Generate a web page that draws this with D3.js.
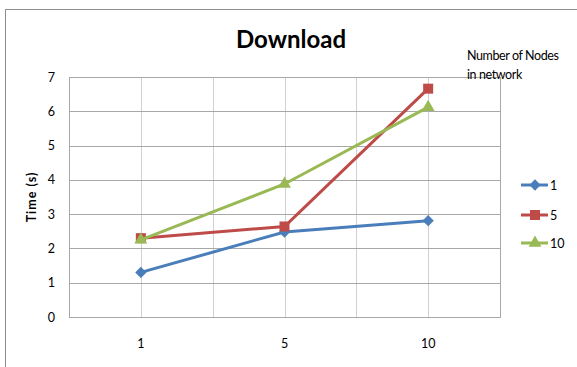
<!DOCTYPE html>
<html>
<head>
<meta charset="utf-8">
<script src="https://cdn.jsdelivr.net/npm/d3@7"></script>
<style>
body { margin: 0; background: #fff; }
svg { display: block; font-family: Lato, "Open Sans", sans-serif; }
</style>
</head>
<body>
<svg id="chart" width="577" height="367"></svg>
<script>
var categories = ["1", "5", "10"];
var yTicks = [0, 1, 2, 3, 4, 5, 6, 7];
var seriesNames = ["1", "5", "10"];
var values1 = [1.3, 2.48, 2.81];
var values5 = [2.3, 2.64, 6.66];
var values10 = [2.25, 3.88, 6.12];
var colors = ["#4a7ebb", "#be4b48", "#98b954"];

var svg = d3.select("#chart");

// outer frame
svg.append("path")
    .attr("d", "M5.5,367 L5.5,9.5 L577,9.5")
    .attr("fill", "none")
    .attr("stroke", "#8c8c8c")
    .attr("stroke-width", 1);

var plotL = 69, plotR = 500, plotT = 77, plotB = 317;

var x = d3.scaleBand().domain(categories).range([plotL, plotR]);
var y = d3.scaleLinear().domain([0, 7]).range([plotB, plotT]);

// marker shapes: diamond = rotated square
function marker(sel, s) {
    if (s == 0) {
        sel.attr("d", d3.symbol().type(d3.symbolSquare).size(64)());
    } else if (s == 1) {
        sel.attr("d", d3.symbol().type(d3.symbolSquare).size(100)());
    } else {
        sel.attr("d", d3.symbol().type(d3.symbolTriangle).size(72)());
    }
    return sel;
}

// vertical grid: band edges + centres
var vlines = [];
categories.forEach(function(c, i) {
    if (i > 0) vlines.push(x(c));
    vlines.push(x(c) + x.bandwidth() / 2);
});
svg.selectAll(".vgrid").data(vlines).enter().append("line")
    .attr("x1", function(d) { return Math.round(d) + 0.5; })
    .attr("x2", function(d) { return Math.round(d) + 0.5; })
    .attr("y1", plotT).attr("y2", plotB)
    .attr("stroke", "#d0d0d0");

svg.selectAll(".hgrid").data(yTicks).enter().append("line")
    .attr("x1", plotL).attr("x2", plotR)
    .attr("y1", function(d) { return Math.round(y(d)) + 0.5; })
    .attr("y2", function(d) { return Math.round(y(d)) + 0.5; })
    .attr("stroke", "#a8a8a8");

svg.append("rect")
    .attr("x", plotL + 0.5).attr("y", plotT + 0.5)
    .attr("width", plotR - plotL).attr("height", plotB - plotT)
    .attr("fill", "none").attr("stroke", "#a8a8a8");

// tick labels
svg.selectAll(".ylab").data(yTicks).enter().append("text")
    .attr("x", 55).attr("y", function(d) { return y(d) + 4.5; })
    .attr("text-anchor", "end")
    .attr("font-size", 12.5).attr("fill", "#000")
    .text(function(d) { return d; });

svg.selectAll(".xlab").data(categories).enter().append("text")
    .attr("x", function(d) { return x(d) + x.bandwidth() / 2; })
    .attr("y", 348)
    .attr("text-anchor", "middle")
    .attr("font-size", 12.5).attr("fill", "#000")
    .text(function(d) { return d; });

svg.append("text")
    .attr("transform", "translate(36,197) rotate(-90)")
    .attr("text-anchor", "middle")
    .attr("font-size", 12.5).attr("font-weight", "bold")
    .attr("letter-spacing", 1)
    .text("Time (s)");

svg.append("text")
    .attr("x", 291).attr("y", 48)
    .attr("text-anchor", "middle")
    .attr("font-size", 24).attr("font-weight", "bold")
    .text("Download");

// series
var allSeries = [values1, values5, values10];
var line = d3.line()
    .x(function(d, i) { return x(categories[i]) + x.bandwidth() / 2; })
    .y(function(d) { return y(d); });

allSeries.forEach(function(vals, s) {
    svg.append("path")
        .datum(vals)
        .attr("d", line)
        .attr("fill", "none")
        .attr("stroke", colors[s])
        .attr("stroke-width", 3);
    svg.selectAll(".pt" + s).data(vals).enter().append("path")
        .call(marker, s)
        .attr("transform", function(d, i) {
            return "translate(" + (x(categories[i]) + x.bandwidth() / 2) + "," + y(d) + ")" +
                (s == 0 ? " rotate(45)" : "");
        })
        .attr("fill", colors[s]);
});

// legend
svg.append("text").attr("x", 467).attr("y", 60).attr("font-size", 12.5)
    .attr("letter-spacing", -0.4).text("Number of Nodes");
svg.append("text").attr("x", 467).attr("y", 79).attr("font-size", 12.5)
    .attr("letter-spacing", -0.4).text("in network");

var legY = [185, 215, 243];
seriesNames.forEach(function(n, s) {
    var g = svg.append("g").attr("transform", "translate(0," + legY[s] + ")");
    g.append("line").attr("x1", 521).attr("x2", 548)
        .attr("stroke", colors[s]).attr("stroke-width", 3);
    g.append("path")
        .call(marker, s)
        .attr("transform", "translate(535,0)" + (s == 0 ? " rotate(45)" : ""))
        .attr("fill", colors[s]);
    g.append("text").attr("x", 550).attr("y", 5)
        .attr("font-size", 12.5).text(n);
});
</script>
</body>
</html>
